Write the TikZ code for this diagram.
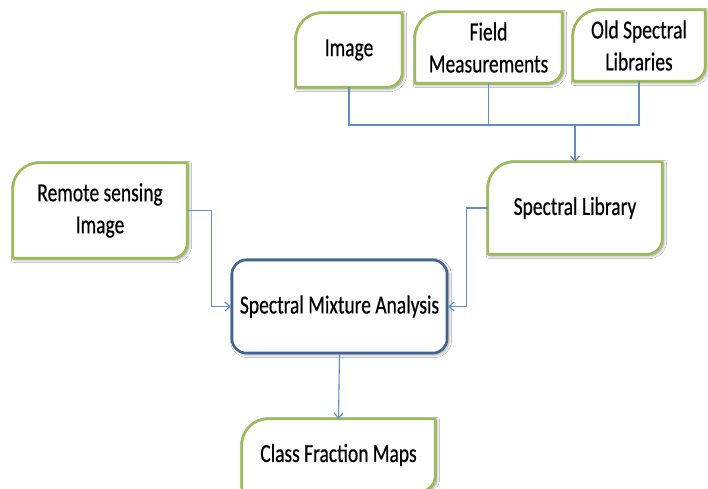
\documentclass[tikz,border=0pt]{standalone}
\usepackage{fontspec}
\setmainfont{Carlito}[FakeStretch=0.75,FakeBold=0.4]
\usetikzlibrary{arrows.meta,calc,backgrounds,shadows.blur}

\definecolor{leafgreen}{HTML}{9BBB59}
\definecolor{smablue}{HTML}{3F6394}
\definecolor{linkblue}{HTML}{5F8DCA}

% corner radii of the leaf boxes (top-left, bottom-right)
\def\rtl{26}
\def\rbr{15}

\tikzset{
  boxtext/.style={inner sep=0pt, align=center, text=black,
    font=\fontsize{26}{32}\selectfont},
  leafline/.style={draw=leafgreen, line width=2.6pt, fill=white, line join=round,
    blur shadow={shadow xshift=1.5pt, shadow yshift=-1.5pt, shadow blur steps=6,
      shadow blur radius=3pt, shadow opacity=45}},
  smabox/.style={boxtext, draw=smablue, line width=2.6pt, fill=white,
    rounded corners=14pt,
    blur shadow={shadow xshift=1.5pt, shadow yshift=-1.5pt, shadow blur steps=6,
      shadow blur radius=3pt, shadow opacity=45}},
  link/.style={draw=linkblue, line width=1.1pt},
  linkarrow/.style={link, -{Straight Barb[length=5pt,width=9pt,line width=1.1pt]}}
}

% leaf-shaped outline around a named node
\newcommand\leafshape[1]{%
  \draw[leafline]
    ($(#1.north west)+(0,\rtl)$)
      .. controls ($(#1.north west)+(0,0.45*\rtl)$) and ($(#1.north west)+(0.45*\rtl,0)$)
      .. ($(#1.north west)+(\rtl,0)$)
    -- (#1.north east)
    -- ($(#1.south east)+(0,-\rbr)$)
      .. controls ($(#1.south east)+(0,-0.45*\rbr)$) and ($(#1.south east)+(-0.45*\rbr,0)$)
      .. ($(#1.south east)+(-\rbr,0)$)
    -- (#1.south west) -- cycle;}

\begin{document}
\begin{tikzpicture}[x=1pt,y=-1pt]
\useasboundingbox (0,0) rectangle (708,488);
\clip (0,0) rectangle (708,488);

% sources
\node[boxtext, minimum width=106pt, minimum height=74pt] (img) at (349,50) {Image};
\node[boxtext, minimum width=147pt, minimum height=71pt] (field) at (488.5,47.5) {Field\\Measurements};
\node[boxtext, minimum width=132pt, minimum height=71pt] (old) at (639,45.5) {Old Spectral\\Libraries};

% inputs to the analysis
\node[boxtext, minimum width=174pt, minimum height=95pt] (rsi) at (100,210.5) {Remote sensing\\Image};
\node[boxtext, minimum width=174pt, minimum height=92pt] (slib) at (575,208) {Spectral Library};

% analysis and result
\node[smabox, minimum width=215pt, minimum height=93pt] (sma) at (339.5,306.5) {Spectral Mixture Analysis};
\node[boxtext, minimum width=193pt, minimum height=72pt] (cfm) at (338.5,455) {Class Fraction Maps};

\begin{scope}[on background layer]
  \fill[white] (0,0) rectangle (708,488);
  \leafshape{img}
  \leafshape{field}
  \leafshape{old}
  \leafshape{rsi}
  \leafshape{slib}
  \leafshape{cfm}
\end{scope}

% connectors
\coordinate (bus) at (575,125);
\draw[link] (img.south) |- (bus);
\draw[link] (field.south) |- (bus);
\draw[link] (old.south) |- (bus);
\draw[linkarrow, line width=1.5pt] (bus) -- (slib.north);

\draw[linkarrow] (rsi.east) -- ++(24,0) |- (sma.west);
\draw[linkarrow] (slib.west) -- ++(-21,0) |- (sma.east);
\draw[linkarrow] (sma.south) -- (cfm.north);
\end{tikzpicture}
\end{document}
